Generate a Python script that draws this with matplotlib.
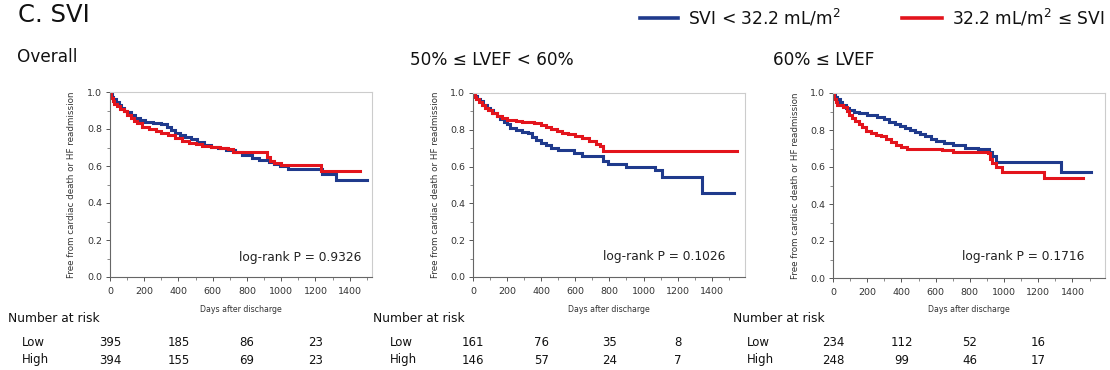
import matplotlib
matplotlib.use("Agg")
import matplotlib.pyplot as plt
from matplotlib.lines import Line2D
from matplotlib.ticker import MultipleLocator
import matplotlib.transforms as mtransforms

plt.rcParams['font.family'] = ['DejaVu Sans']

W, H = 1110, 370

# ---------------- data ----------------
panel_titles = ["Overall", "50% \u2264 LVEF < 60%", "60% \u2264 LVEF"]
pvalues = ["log-rank P = 0.9326", "log-rank P = 0.1026", "log-rank P = 0.1716"]
legend_labels = [r"SVI < 32.2 mL/m$^2$", "32.2 mL/m$^2$ \u2264 SVI"]

# Overall
low1_t = [0, 10, 20, 35, 50, 65, 80, 100, 120, 145, 175, 205, 250, 300, 330, 355, 380, 410, 440, 475,
          510, 550, 590, 630, 680, 730, 770, 830, 870, 930, 960, 990, 1040, 1240, 1320, 1500]
low1_s = [1.0, 0.975, 0.96, 0.945, 0.93, 0.915, 0.9, 0.89, 0.875, 0.86, 0.85, 0.84, 0.835, 0.825, 0.81,
          0.795, 0.78, 0.77, 0.755, 0.745, 0.73, 0.715, 0.705, 0.695, 0.685, 0.675, 0.66, 0.645, 0.635,
          0.62, 0.61, 0.60, 0.585, 0.555, 0.525, 0.525]
high1_t = [0, 8, 15, 25, 40, 60, 80, 100, 120, 140, 160, 185, 230, 270, 300, 340, 380, 420, 460, 500,
           540, 590, 640, 690, 720, 915, 935, 960, 1000, 1230, 1460]
high1_s = [1.0, 0.97, 0.95, 0.935, 0.925, 0.91, 0.895, 0.875, 0.86, 0.845, 0.83, 0.81, 0.8, 0.79, 0.78,
           0.765, 0.75, 0.735, 0.725, 0.72, 0.71, 0.705, 0.7, 0.69, 0.675, 0.65, 0.625, 0.615, 0.605,
           0.575, 0.575]

# 50% <= LVEF < 60%
low2_t = [0, 10, 25, 40, 60, 80, 100, 120, 140, 160, 180, 200, 215, 250, 290, 320, 345, 370, 400, 430,
          460, 500, 590, 640, 760, 790, 900, 1070, 1110, 1340, 1530]
low2_s = [1.0, 0.985, 0.97, 0.955, 0.935, 0.92, 0.905, 0.89, 0.875, 0.86, 0.845, 0.83, 0.81, 0.8, 0.79,
          0.78, 0.76, 0.745, 0.73, 0.715, 0.7, 0.69, 0.675, 0.655, 0.63, 0.615, 0.6, 0.58, 0.545,
          0.455, 0.455]
high2_t = [0, 10, 20, 35, 50, 70, 90, 110, 140, 170, 200, 250, 290, 360, 400, 430, 460, 490, 520, 560,
           600, 640, 680, 720, 745, 765, 1550]
high2_s = [1.0, 0.98, 0.965, 0.95, 0.935, 0.92, 0.905, 0.89, 0.875, 0.865, 0.855, 0.85, 0.84, 0.835,
           0.825, 0.815, 0.805, 0.795, 0.785, 0.775, 0.765, 0.755, 0.74, 0.725, 0.71, 0.685, 0.685]

# 60% <= LVEF
low3_t = [0, 10, 25, 40, 55, 75, 95, 120, 150, 200, 260, 300, 330, 360, 390, 420, 450, 480, 510, 540,
          570, 600, 650, 700, 770, 850, 910, 930, 955, 1330, 1510]
low3_s = [1.0, 0.98, 0.965, 0.95, 0.935, 0.92, 0.91, 0.9, 0.89, 0.88, 0.87, 0.86, 0.845, 0.83, 0.82,
          0.81, 0.8, 0.79, 0.78, 0.765, 0.75, 0.74, 0.73, 0.72, 0.705, 0.695, 0.68, 0.66, 0.625,
          0.575, 0.575]
high3_t = [0, 8, 15, 25, 60, 80, 95, 110, 130, 150, 170, 190, 220, 250, 280, 310, 340, 370, 400, 430,
           560, 640, 700, 905, 915, 930, 950, 990, 1235, 1460]
high3_s = [1.0, 0.97, 0.95, 0.935, 0.925, 0.905, 0.88, 0.865, 0.85, 0.835, 0.815, 0.795, 0.785, 0.775,
           0.765, 0.75, 0.735, 0.72, 0.71, 0.70, 0.695, 0.69, 0.68, 0.675, 0.645, 0.62, 0.6, 0.575,
           0.54, 0.54]

risk_days = [0, 400, 800, 1200]
risk_low = [[395, 185, 86, 23], [161, 76, 35, 8], [234, 112, 52, 16]]
risk_high = [[394, 155, 69, 23], [146, 57, 24, 7], [248, 99, 46, 17]]

curves = [((low1_t, low1_s), (high1_t, high1_s)),
          ((low2_t, low2_s), (high2_t, high2_s)),
          ((low3_t, low3_s), (high3_t, high3_s))]

# ---------------- style / layout ----------------
BLUE = "#1f3a8c"
RED = "#e3141c"
# axes boxes in pixels: left, top, right, bottom
boxes = [(110, 92, 372, 277), (473, 93, 745, 277), (833, 93, 1105, 278)]
xmaxes = [1530, 1595, 1590]
pv_pos = [(0.96, 0.108), (0.928, 0.114), (0.925, 0.117)]
title_pos = [(17, 57), (410, 60), (773, 60)]
risk_label_x = [8, 373, 733]
lowhigh_x = [22, 390, 747]

fig = plt.figure(figsize=(W / 100, H / 100), dpi=100)


def fx(px):
    return px / W


def fy(py):
    return 1 - py / H


fig.text(fx(18), fy(15), "C. SVI", fontsize=17.5, va="center", ha="left", color="#111111")

# legend
for (x0, x1, tx, lab, col) in [(640, 678, 688, legend_labels[0], BLUE),
                               (902, 942, 952, legend_labels[1], RED)]:
    fig.add_artist(Line2D([fx(x0), fx(x1)], [fy(18), fy(18)], transform=fig.transFigure,
                          color=col, lw=2.6))
    fig.text(fx(tx), fy(18), lab, fontsize=12.3, va="center", ha="left", color="#111111")

for i in range(3):
    l, t, r, b = boxes[i]
    ax = fig.add_axes([fx(l), fy(b), fx(r - l), (b - t) / H])
    (lt, ls), (ht, hs) = curves[i]
    ax.step(lt, ls, where="post", color=BLUE, lw=2.2, solid_joinstyle="miter")
    ax.step(ht, hs, where="post", color=RED, lw=2.2, solid_joinstyle="miter")
    ax.set_xlim(0, xmaxes[i])
    ax.set_ylim(0, 1.0)
    ax.xaxis.set_major_locator(MultipleLocator(200))
    ax.xaxis.set_minor_locator(MultipleLocator(100))
    ax.yaxis.set_major_locator(MultipleLocator(0.2))
    ax.yaxis.set_minor_locator(MultipleLocator(0.1))
    ax.yaxis.set_major_formatter(plt.FuncFormatter(lambda v, p: f"{v:.1f}"))
    ax.tick_params(which="major", direction="out", length=3, width=0.7, colors="#555555",
                   labelsize=6.8, labelcolor="#333333", pad=2.5)
    ax.tick_params(which="minor", direction="out", length=2, width=0.6, colors="#777777")
    ax.tick_params(axis="x", which="major", pad=4)
    for s in ["left", "bottom"]:
        ax.spines[s].set_color("#666666")
        ax.spines[s].set_linewidth(0.8)
    for s in ["top", "right"]:
        ax.spines[s].set_color("#cccccc")
        ax.spines[s].set_linewidth(0.8)
    ax.text(pv_pos[i][0], pv_pos[i][1], pvalues[i], transform=ax.transAxes, ha="right",
            va="center", fontsize=8.8, color="#222222")
    # y label
    fig.text(fx(l - 38), fy((t + b) / 2), "Free from cardiac death or HF readmission",
             rotation=90, ha="center", va="center", fontsize=6.3, color="#333333")
    # x label
    fig.text(fx((l + r) / 2), fy(310), "Days after discharge", ha="center", va="center",
             fontsize=5.7, color="#333333")
    # title
    fig.text(fx(title_pos[i][0]), fy(title_pos[i][1]), panel_titles[i], ha="left", va="center",
             fontsize=12.2, color="#111111")
    # number at risk
    fig.text(fx(risk_label_x[i]), fy(318), "Number at risk", ha="left", va="center",
             fontsize=8.8, color="#111111")
    fig.text(fx(lowhigh_x[i]), fy(342), "Low", ha="left", va="center", fontsize=8.5, color="#111111")
    fig.text(fx(lowhigh_x[i]), fy(360), "High", ha="left", va="center", fontsize=8.5, color="#111111")
    trans = mtransforms.blended_transform_factory(ax.transData, fig.transFigure)
    for d, nl, nh in zip(risk_days, risk_low[i], risk_high[i]):
        ax.text(d, fy(342), str(nl), transform=trans, ha="center", va="center", fontsize=8.5,
                color="#111111", clip_on=False)
        ax.text(d, fy(360), str(nh), transform=trans, ha="center", va="center", fontsize=8.5,
                color="#111111", clip_on=False)

fig.savefig("out.png", dpi=100)
